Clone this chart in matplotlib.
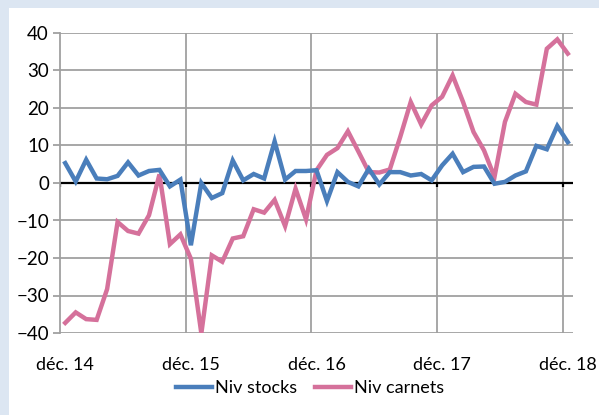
import numpy as np
import matplotlib.pyplot as plt
from matplotlib.patches import Rectangle

# monthly values, dec. 2014 -> dec. 2018
niv_stocks = [5.3, 0.4, 6.2, 1.2, 1.0, 1.9, 5.5, 2.0, 3.2, 3.5, -0.9, 0.9,
              -16.6, 0.0, -4.0, -2.7, 6.0, 0.7, 2.4, 1.2, 11.1, 0.9, 3.2, 3.2,
              3.4, -4.8, 2.9, 0.3, -0.9, 3.8, -0.4, 2.9, 2.9, 2.0, 2.4, 0.7,
              4.7, 7.8, 2.9, 4.3, 4.4, -0.2, 0.3, 2.0, 3.1, 9.9, 9.0, 15.2,
              10.9]
niv_carnets = [-37.3, -34.5, -36.3, -36.5, -28.3, -10.4, -12.8, -13.5, -8.6, 2.3, -16.3, -13.7,
               -20.2, -40.1, -19.3, -21.0, -14.8, -14.2, -7.0, -7.9, -4.5, -11.5, -1.5, -9.7,
               3.4, 7.5, 9.3, 13.8, 8.4, 2.9, 2.8, 3.6, 12.3, 21.6, 15.6, 20.7,
               23.0, 28.7, 21.6, 13.6, 8.7, 1.6, 16.3, 23.8, 21.6, 20.9, 35.8, 38.3,
               34.5]
tick_labels = ['déc. 14', 'déc. 15', 'déc. 16', 'déc. 17', 'déc. 18']

blue = '#4A7EBB'
pink = '#D5719B'
grid = '#A0A0A0'

plt.rcParams['font.family'] = ['Lato', 'DejaVu Sans']

W, H = 599, 415
fig = plt.figure(figsize=(W / 100, H / 100), dpi=100)
fig.patch.set_facecolor('#DCE6F2')
fig.patches.append(Rectangle((9 / W, 0), 1, 1 - 8 / H, transform=fig.transFigure,
                             facecolor='white', edgecolor='none', zorder=-5))

ax = fig.add_axes([60 / W, 1 - 333 / H, (573 - 60) / W, 300 / H])
ax.set_facecolor('none')

n = len(niv_stocks)
x = np.arange(n)
ax.plot(x, niv_stocks, color=blue, lw=3.2, solid_joinstyle='miter', label='Niv stocks', zorder=4)
ax.plot(x, niv_carnets, color=pink, lw=3.2, solid_joinstyle='miter', label='Niv carnets', zorder=3)

ax.set_xlim(-0.5, n - 0.5)
ax.set_ylim(-40, 40)
ax.set_yticks(np.arange(-40, 41, 10))
ax.yaxis.grid(True, color=grid, lw=1.3)
ax.set_axisbelow(True)

# year separators and zero line with small ticks
bounds = np.arange(-0.5, n - 1, 12)
for b in bounds[1:]:
    ax.axvline(b, color=grid, lw=1.3, zorder=1)
ax.axhline(0, color='black', lw=1.6, zorder=2)
ax.vlines(bounds, -1.2, 0, color='black', lw=1.6, zorder=2)

ax.set_xticks(np.arange(0, n, 12))
ax.set_xticklabels(tick_labels)
ax.tick_params(axis='x', length=0, pad=17, labelsize=13)
ax.tick_params(axis='y', length=5, color=grid, width=1.3, pad=3, labelsize=13.5)

for s in ['top', 'right', 'bottom']:
    ax.spines[s].set_visible(False)
ax.spines['left'].set_color(grid)
ax.spines['left'].set_linewidth(1.3)

leg = fig.legend(loc='center', bbox_to_anchor=(310 / W, 1 - 388 / H), ncol=2,
                 frameon=False, fontsize=13, handlelength=2.0, handletextpad=0.15,
                 columnspacing=1.0)

fig.savefig('out.png', dpi=100, facecolor=fig.get_facecolor())
